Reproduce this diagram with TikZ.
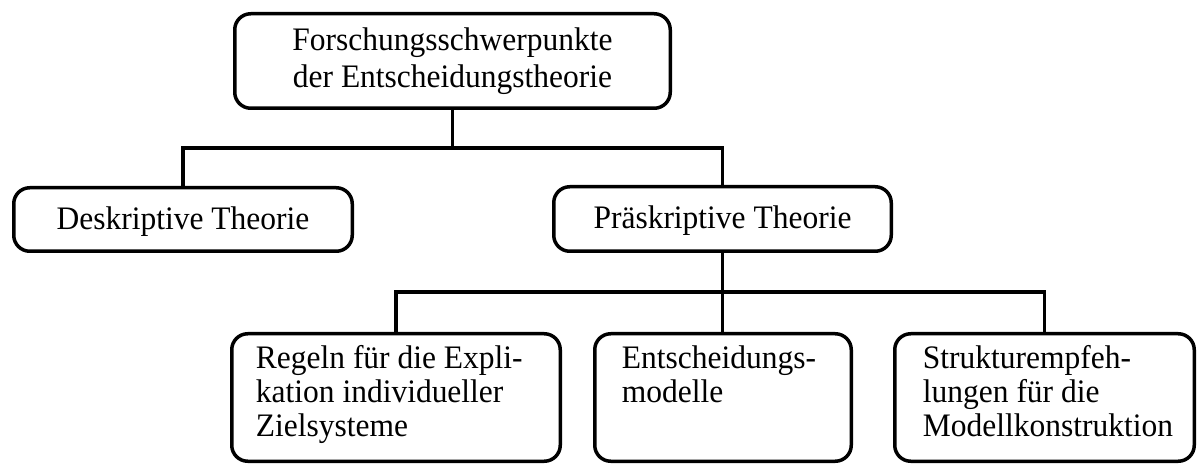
\documentclass[tikz,border=0pt]{standalone}
\usepackage{fontspec}
\setmainfont{Liberation Serif}[FakeStretch=0.96]
\newcommand\bxtext[4]{\parbox[c][#2][t]{#1}{\vspace*{5.5pt}\leftskip=#3\relax\rightskip=0pt plus 1fil\relax\parindent=0pt\strut #4}}
\begin{document}
\begin{tikzpicture}[x=0.5pt,y=-0.5pt,
  box/.style={draw, line width=1.75pt, rounded corners=8pt, inner sep=0pt},
  ctext/.style={box, align=center, font=\fontsize{16.4pt}{18.5pt}\selectfont},
  bbox/.style={box, font=\fontsize{16.4pt}{17pt}\selectfont},
  link/.style={line width=1.6pt}]
\useasboundingbox (0,0) rectangle (1199,464);
\node[ctext, minimum width=217.75pt, minimum height=47.25pt] (top) at (452.5,61) {Forschungsschwerpunkte\\der Entscheidungstheorie};
\node[ctext, minimum width=169.25pt, minimum height=31.75pt, text depth=1.5pt] (desk) at (183,219.5) {Deskriptive Theorie};
\node[ctext, minimum width=168.75pt, minimum height=32.25pt, text depth=1.5pt] (pras) at (722.5,219) {Präskriptive Theorie};
\node[bbox] (b1) at (396,397.5) {\bxtext{164.25pt}{63.75pt}{12.1pt}{Regeln für die Expli-\\kation individueller\\Zielsysteme}};
\node[bbox] (b2) at (723,397.5) {\bxtext{128.25pt}{63.75pt}{13.6pt}{Entscheidungs-\\modelle}};
\node[bbox] (b3) at (1044.5,397.5) {\bxtext{149.75pt}{63.75pt}{14.1pt}{Strukturempfeh-\\lungen für die\\Modellkonstruktion}};
\coordinate (j1) at (452.5,148);
\coordinate (j2) at (722.5,292);
\draw[link] (top.south) -- (j1);
\draw[link] (desk.north) |- (j1);
\draw[link] (pras.north) |- (j1);
\draw[link] (pras.south) -- (pras.south |- b2.north);
\draw[link] (b1.north) |- (j2);
\draw[link] (b3.north) |- (j2);
\end{tikzpicture}
\end{document}
